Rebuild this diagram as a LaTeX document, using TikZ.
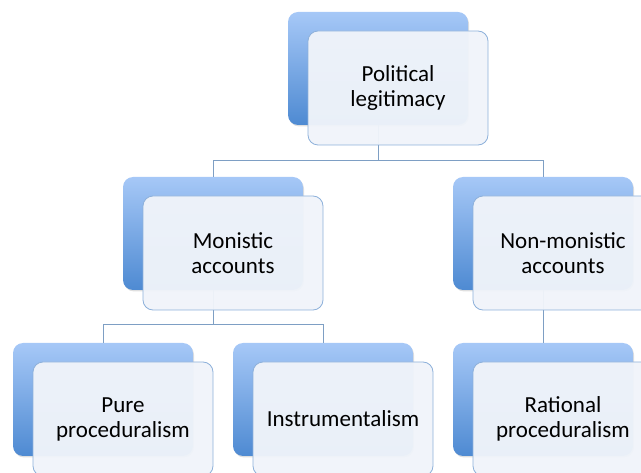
\documentclass[tikz,border=0pt]{standalone}
\usepackage{fontspec}
\setmainfont{Carlito}
\usetikzlibrary{shadows}
\definecolor{backtop}{HTML}{A6C8F7}
\definecolor{backbot}{HTML}{4E8AD2}
\definecolor{cardfill}{HTML}{F0F4FA}
\definecolor{cardedge}{HTML}{8DB0DA}
\definecolor{linkcol}{HTML}{7E9FC4}
\tikzset{
  backcard/.style={rectangle, rounded corners=10pt, anchor=north west,
    minimum width=180pt, minimum height=113pt, inner sep=0pt, outer sep=0pt,
    top color=backtop, bottom color=backbot, draw=none,
    drop shadow={shadow xshift=1pt, shadow yshift=-1.5pt, opacity=0.25}},
  frontcard/.style={rectangle, rounded corners=10pt, anchor=north west,
    minimum width=180pt, minimum height=114pt, inner sep=0pt, outer sep=0pt,
    fill=cardfill, fill opacity=0.96, text opacity=1, draw=cardedge, line width=0.8pt},
  cardtext/.style={align=center, text=black,
    font=\fontsize{23pt}{25pt}\selectfont},
  link/.style={draw=linkcol, line width=0.9pt}
}
\begin{document}
\begin{tikzpicture}[x=1pt,y=-1pt]
  \useasboundingbox (0,0) rectangle (641,473);
  % back cards
  \node[backcard] (pl-b) at (288,12) {};
  \node[backcard] (mo-b) at (123,177) {};
  \node[backcard] (nm-b) at (453,177) {};
  \node[backcard] (pp-b) at (13,343) {};
  \node[backcard] (in-b) at (233,343) {};
  \node[backcard] (rp-b) at (453,343) {};
  % connectors
  \draw[link] (pl-b.south) -- ++(0,35) -| (mo-b.north);
  \draw[link] (pl-b.south) -- ++(0,35) -| (nm-b.north);
  \draw[link] (mo-b.south) -- ++(0,34) -| (pp-b.north);
  \draw[link] (mo-b.south) -- ++(0,34) -| (in-b.north);
  \draw[link] (nm-b.south) -- (rp-b.north);
  % front cards
  \node[frontcard] (pl) at (308,31) {};
  \node[frontcard] (mo) at (143,196) {};
  \node[frontcard] (nm) at (473,196) {};
  \node[frontcard] (pp) at (33,362) {};
  \node[frontcard] (in) at (253,362) {};
  \node[frontcard] (rp) at (473,362) {};
  % labels
  \node[cardtext] (pl-t) at (pl.center) {Political\\legitimacy};
  \node[cardtext] (mo-t) at (mo.center) {Monistic\\accounts};
  \node[cardtext] (nm-t) at (nm.center) {Non-monistic\\accounts};
  \node[cardtext] (pp-t) at (pp.center) {Pure\\proceduralism};
  \node[cardtext] (in-t) at (in.center) {Instrumentalism};
  \node[cardtext] (rp-t) at (rp.center) {Rational\\proceduralism};
\end{tikzpicture}
\end{document}
